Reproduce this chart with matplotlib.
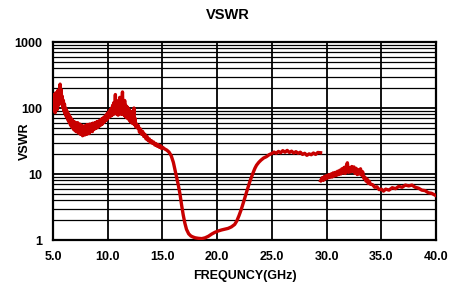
import matplotlib
matplotlib.use('Agg')
import matplotlib.pyplot as plt
from matplotlib.ticker import FixedLocator, FixedFormatter, LogLocator, NullFormatter

plt.rcParams['font.family'] = ['Liberation Sans', 'DejaVu Sans']
plt.rcParams['font.weight'] = 'bold'

# Datos (frecuencia en GHz, VSWR)
# tramo ruidoso 5.0 - 12.6 GHz, cada 0.05 GHz
freq_ruido = [5.00, 5.05, 5.10, 5.15, 5.20, 5.25, 5.30, 5.35, 5.40, 5.45,
              5.50, 5.55, 5.60, 5.65, 5.70, 5.75, 5.80, 5.85, 5.90, 5.95,
              6.00, 6.05, 6.10, 6.15, 6.20, 6.25, 6.30, 6.35, 6.40, 6.45,
              6.50, 6.55, 6.60, 6.65, 6.70, 6.75, 6.80, 6.85, 6.90, 6.95,
              7.00, 7.05, 7.10, 7.15, 7.20, 7.25, 7.30, 7.35, 7.40, 7.45,
              7.50, 7.55, 7.60, 7.65, 7.70, 7.75, 7.80, 7.85, 7.90, 7.95,
              8.00, 8.05, 8.10, 8.15, 8.20, 8.25, 8.30, 8.35, 8.40, 8.45,
              8.50, 8.55, 8.60, 8.65, 8.70, 8.75, 8.80, 8.85, 8.90, 8.95,
              9.00, 9.05, 9.10, 9.15, 9.20, 9.25, 9.30, 9.35, 9.40, 9.45,
              9.50, 9.55, 9.60, 9.65, 9.70, 9.75, 9.80, 9.85, 9.90, 9.95,
              10.00, 10.05, 10.10, 10.15, 10.20, 10.25, 10.30, 10.35, 10.40, 10.45,
              10.50, 10.55, 10.60, 10.65, 10.70, 10.75, 10.80, 10.85, 10.90, 10.95,
              11.00, 11.05, 11.10, 11.15, 11.20, 11.25, 11.30, 11.35, 11.40, 11.45,
              11.50, 11.55, 11.60, 11.65, 11.70, 11.75, 11.80, 11.85, 11.90, 11.95,
              12.00, 12.05, 12.10, 12.15, 12.20, 12.25, 12.30, 12.35, 12.40, 12.45,
              12.50, 12.55, 12.60]
vswr_ruido = [105, 160, 95, 140, 85, 170, 100, 150, 95, 185,
              110, 165, 115, 230, 130, 190, 120, 150, 100, 130,
              90, 115, 82, 100, 75, 92, 70, 85, 64, 80,
              60, 74, 55, 70, 52, 66, 50, 63, 47, 62,
              46, 60, 44, 58, 45, 60, 42, 56, 43, 57,
              40, 55, 42, 54, 38, 53, 41, 52, 39, 54,
              42, 55, 40, 56, 43, 54, 41, 57, 44, 56,
              45, 58, 44, 59, 47, 58, 48, 60, 49, 61,
              50, 62, 51, 63, 53, 64, 54, 66, 56, 68,
              57, 70, 60, 72, 62, 75, 64, 78, 66, 82,
              70, 86, 72, 90, 74, 95, 76, 100, 78, 110,
              80, 120, 82, 105, 160, 85, 130, 80, 115, 78,
              125, 82, 145, 85, 115, 80, 130, 175, 85, 120,
              78, 130, 75, 110, 72, 105, 70, 100, 68, 95,
              64, 90, 62, 88, 60, 85, 58, 80, 100, 56,
              70, 52, 58]

# tramo de bajada, minimo y subida hasta 29.45 GHz
freq_a = [12.7, 12.8, 12.9, 13.0, 13.1, 13.2, 13.3, 13.4, 13.5, 13.6,
          13.7, 13.8, 13.9, 14.0, 14.1, 14.2, 14.3, 14.4, 14.5, 14.6,
          14.7, 14.8, 14.9, 15.0, 15.2, 15.4, 15.6, 15.8,
          16.0, 16.15, 16.3, 16.45, 16.6, 16.75, 16.9, 17.05, 17.2, 17.4,
          17.6, 17.8, 18.0, 18.3, 18.6, 18.9, 19.2, 19.5, 19.8, 20.1,
          20.4, 20.7, 21.0, 21.3, 21.6, 21.8, 22.0, 22.2, 22.4, 22.55,
          22.7, 22.85, 23.0, 23.15, 23.3, 23.45, 23.6, 23.8, 24.0, 24.25,
          24.5, 24.75, 25.0, 25.2, 25.4, 25.6, 25.8, 26.0, 26.2, 26.4,
          26.6, 26.8, 27.0, 27.2, 27.4, 27.6, 27.8, 28.0, 28.2, 28.4,
          28.6, 28.8, 29.0, 29.2, 29.45]
vswr_a = [50, 54, 43, 48, 40, 44, 37, 40, 34, 37,
          32, 34, 30, 32, 29, 30.5, 27.5, 29, 26.5, 28,
          25.5, 27, 24.5, 25.5, 24, 23, 21.5, 19,
          15, 11.5, 8.8, 6.8, 5.0, 3.4, 2.4, 1.8, 1.45, 1.24,
          1.15, 1.11, 1.08, 1.06, 1.05, 1.08, 1.14, 1.23, 1.31, 1.37,
          1.42, 1.46, 1.5, 1.58, 1.72, 1.95, 2.35, 2.9, 3.7, 4.5,
          5.4, 6.5, 7.8, 9.1, 10.6, 12.2, 13.6, 15.0, 16.2, 17.5,
          18.3, 19.6, 20.5, 21.5, 20.6, 22.0, 21.0, 22.6, 21.4, 22.8,
          21.2, 22.2, 20.8, 21.8, 20.6, 21.4, 19.8, 20.6, 19.2, 20.2,
          19.6, 20.8, 19.8, 21.2, 21.0]

freq_b = [29.45, 29.6, 29.7, 29.8, 29.9, 30.0, 30.1, 30.2, 30.3, 30.4,
          30.5, 30.6, 30.7, 30.8, 30.9, 31.0, 31.1, 31.2, 31.3, 31.4,
          31.5, 31.6, 31.7, 31.8, 31.9, 32.0, 32.1, 32.2, 32.3, 32.4,
          32.5, 32.6, 32.7, 32.8, 32.9, 33.0, 33.1, 33.2, 33.3, 33.4,
          33.5, 33.6, 33.7, 33.8, 33.9, 34.0, 34.2, 34.4, 34.6, 34.8,
          35.0, 35.2, 35.4, 35.7, 36.0, 36.3, 36.6, 36.9, 37.2, 37.5,
          37.8, 38.1, 38.4, 38.7, 39.0, 39.3, 39.6, 40.0]
vswr_b = [7.9, 8.8, 8.0, 9.2, 8.4, 9.5, 8.7, 9.8, 8.9, 10.0,
          9.0, 10.4, 9.3, 10.6, 9.5, 11.0, 9.8, 11.4, 10.0, 12.0,
          10.4, 12.6, 10.2, 13.2, 14.8, 10.6, 12.4, 10.8, 13.0, 11.0,
          12.8, 10.2, 12.2, 9.8, 11.6, 10.0, 12.0, 9.6, 10.8, 8.6,
          9.0, 7.8, 8.4, 7.2, 7.8, 7.0, 6.9, 6.3, 6.4, 5.8,
          5.9, 5.5, 5.9, 5.7, 6.2, 6.0, 6.5, 6.3, 6.8, 6.6,
          6.8, 6.3, 6.1, 5.7, 5.6, 5.2, 5.1, 4.7]

xticks = [5.0, 10.0, 15.0, 20.0, 25.0, 30.0, 35.0, 40.0]
yticks = [1, 10, 100, 1000]
ytick_labels = ['1', '10', '100', '1000']

fig = plt.figure(figsize=(4.56, 2.86), dpi=100)
ax = fig.add_axes([0.1162, 0.1608, 0.8400, 0.6923])

rojo = '#c80000'
ax.plot(freq_ruido + freq_a, vswr_ruido + vswr_a, color=rojo, lw=2.4, zorder=3)
ax.plot(freq_b, vswr_b, color=rojo, lw=2.4, zorder=3)

ax.set_yscale('log')
ax.set_xlim(5, 40)
ax.set_ylim(1, 1000)
ax.xaxis.set_major_locator(FixedLocator(xticks))
ax.set_xticklabels([f'{v:.1f}' for v in xticks])
ax.yaxis.set_major_locator(FixedLocator(yticks))
ax.yaxis.set_major_formatter(FixedFormatter(ytick_labels))
ax.yaxis.set_minor_locator(LogLocator(base=10, subs=range(2, 10)))
ax.yaxis.set_minor_formatter(NullFormatter())

ax.grid(True, which='major', color='black', lw=1.3)
ax.grid(True, which='minor', axis='y', color='black', lw=0.9)
ax.tick_params(which='both', length=0, labelsize=9)
ax.tick_params(axis='x', pad=8)
ax.tick_params(axis='y', pad=8)
for lab in ax.get_xticklabels() + ax.get_yticklabels():
    lab.set_fontweight('bold')
for s in ax.spines.values():
    s.set_linewidth(1.6)
    s.set_color('black')

fig.text(0.5, 1 - 15 / 286, 'VSWR', ha='center', va='center', fontsize=10.5, fontweight='bold')
ax.set_xlabel('FREQUNCY(GHz)', fontsize=9, fontweight='bold', labelpad=5)
ax.set_ylabel('VSWR', fontsize=9, fontweight='bold')
ax.yaxis.set_label_coords(-0.058, 0.5)

fig.savefig('out.png', dpi=100)
